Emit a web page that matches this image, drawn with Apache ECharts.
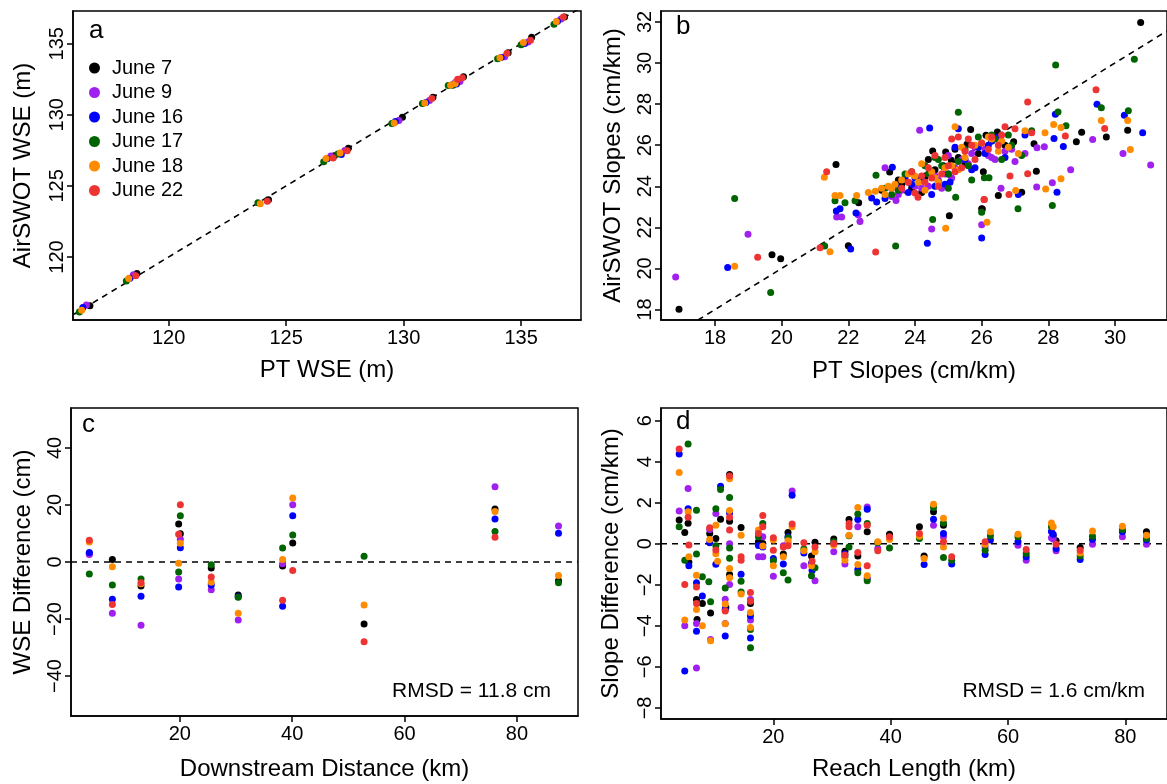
<!DOCTYPE html>
<html>
<head>
<meta charset="utf-8">
<script src="https://cdn.jsdelivr.net/npm/echarts@6/dist/echarts.min.js"></script>
<style>html,body{margin:0;padding:0;background:#fff;}#chart{width:1167px;height:784px;}</style>
</head>
<body>
<div id="chart"></div>
<script>
// ---------- names / colours ----------
const dates = ['June 7', 'June 9', 'June 16', 'June 17', 'June 18', 'June 22'];
const colors = ['#000000', '#A020F0', '#0000FF', '#006400', '#FF8C00', '#EE3333'];

// ---------- panel a : PT WSE (m) vs AirSWOT WSE (m) ----------
const aJune7  = [[136.85,136.88],[135.45,135.46],[134.45,134.37],[132.55,132.68],[132.35,132.45],[131.25,131.23],[129.95,129.83],[127.65,127.64],[127.05,127.12],[124.25,124.03],[118.65,118.84],[116.65,116.58]];
const aJune9  = [[136.7,136.73],[135.3,135.12],[134.3,134.08],[132.4,132.34],[132.2,132.28],[131.1,131.0],[129.8,129.6],[127.5,127.49],[126.9,127.1],[118.5,118.76],[116.5,116.63]];
const aJune16 = [[136.55,136.58],[135.15,135.02],[134.15,134.03],[132.25,132.16],[132.05,132.1],[130.95,130.87],[129.65,129.53],[127.35,127.2],[126.75,126.91],[118.35,118.5],[116.35,116.45]];
const aJune17 = [[136.4,136.36],[135.0,134.92],[134.0,133.94],[132.1,132.07],[131.9,132.06],[130.8,130.79],[129.5,129.38],[127.2,127.25],[126.6,126.7],[123.8,123.82],[118.2,118.31],[116.2,116.13]];
const aJune18 = [[136.5,136.57],[135.1,135.08],[134.1,134.02],[132.2,132.2],[132.0,132.07],[130.9,130.83],[129.6,129.42],[127.3,127.31],[126.7,126.92],[123.9,123.75],[118.3,118.48],[116.3,116.25]];
const aJune22 = [[136.8,136.88],[135.4,135.25],[134.4,134.33],[132.5,132.6],[132.3,132.5],[131.2,131.15],[127.6,127.47],[127.0,126.97],[124.2,123.92],[118.6,118.69]];

// ---------- panel b : PT slopes vs AirSWOT slopes (cm/km) ----------
const bJune7  = [[16.92,18.01],[19.71,20.67],[19.97,20.47],[21.63,25.06],[22.0,21.11],[22.31,23.2],[23.24,24.69],[23.6,24.1],[23.9,23.9],[24.1,24.3],[24.3,24.5],[24.53,25.72],[24.92,25.67],[24.85,25.0],[25.03,22.57],[25.09,25.26],[25.3,25.4],[25.56,26.04],[25.67,26.76],[26.0,22.9],[26.05,24.7],[26.13,26.48],[26.47,26.64],[26.5,23.55],[26.96,26.16],[27.2,23.71],[27.57,26.07],[27.64,24.73],[28.84,26.16],[29.0,26.63],[29.74,26.4],[30.38,26.73],[30.77,31.97],[26.02,22.89],[24.2,23.7],[25.9,25.6],[23.0,23.8],[24.6,24.8],[25.2,25.8],[25.5,25.1],[26.3,26.2],[24.4,25.3],[23.5,24.3],[26.7,26.0]];
const bJune9  = [[16.82,19.58],[18.99,21.66],[21.65,22.5],[21.8,22.5],[22.35,22.28],[22.3,22.6],[23.1,24.9],[23.43,23.31],[23.6,23.8],[23.8,24.2],[24.14,26.73],[24.4,24.0],[24.5,21.92],[24.6,24.5],[24.8,23.9],[25.0,25.5],[25.2,24.9],[25.4,25.3],[25.6,25.1],[25.8,25.9],[26.0,22.13],[26.2,25.5],[26.4,25.3],[26.58,23.9],[26.7,25.7],[27.0,25.2],[27.3,25.6],[27.66,25.87],[27.88,25.92],[27.65,23.96],[28.12,24.17],[28.67,24.8],[29.33,26.28],[30.24,25.6],[31.07,25.04],[23.3,23.5],[24.9,24.6],[26.1,25.8],[23.5,23.6],[24.2,23.9],[24.7,24.3],[25.1,24.4],[25.7,25.6],[26.3,25.4],[24.0,24.0],[26.9,25.8]];
const bJune16 = [[18.38,20.05],[21.64,22.8],[21.75,22.9],[22.07,20.94],[22.23,22.7],[22.7,23.43],[22.85,23.23],[23.1,23.4],[23.32,24.93],[23.5,23.9],[23.8,23.7],[24.0,24.4],[24.37,21.22],[24.44,26.84],[24.5,23.6],[24.7,24.2],[24.9,24.1],[25.05,24.2],[25.2,25.9],[25.3,26.8],[25.7,24.8],[25.9,25.9],[26.0,21.48],[26.1,25.6],[26.3,26.2],[26.5,26.4],[26.7,25.4],[27.1,23.6],[27.3,26.5],[28.17,26.33],[28.21,27.51],[28.26,23.71],[28.45,25.94],[29.46,27.99],[30.28,27.46],[30.83,26.6],[23.9,24.1],[23.3,23.9],[24.2,24.3],[24.6,24.0],[25.0,24.6],[25.5,25.3],[25.8,24.9],[26.2,26.0],[23.7,24.4]];
const bJune17 = [[18.59,23.4],[19.67,18.83],[21.29,21.09],[21.6,23.3],[21.9,23.2],[22.2,23.3],[22.83,24.54],[23.42,21.09],[23.3,23.6],[23.5,23.8],[23.7,24.6],[24.1,24.2],[24.3,25.0],[24.53,22.38],[24.6,25.4],[24.8,25.0],[25.0,24.6],[25.22,23.47],[25.3,27.6],[25.5,25.8],[25.7,24.3],[25.9,26.4],[26.0,22.74],[26.08,24.41],[26.22,24.41],[26.4,26.3],[26.6,25.3],[26.8,26.5],[27.09,22.91],[27.2,25.5],[27.5,26.7],[28.12,23.06],[28.22,29.9],[28.29,27.62],[28.53,26.94],[29.59,27.82],[30.4,27.67],[30.58,30.18],[25.0,23.9],[23.1,23.9],[23.9,24.7],[24.4,24.6],[24.7,25.3],[25.3,25.2],[25.6,25.0],[26.3,26.5],[26.9,26.0]];
const bJune18 = [[18.59,20.11],[21.28,24.44],[21.45,20.81],[21.6,23.55],[21.75,23.55],[22.25,23.55],[22.81,23.76],[23.1,23.6],[23.2,24.0],[23.4,24.1],[23.6,24.3],[23.8,24.6],[24.0,24.5],[24.2,25.1],[24.3,23.8],[24.5,24.7],[24.7,24.2],[24.92,21.96],[24.9,24.9],[25.2,26.9],[25.3,24.8],[25.5,25.4],[25.8,26.0],[26.0,26.1],[26.16,22.25],[26.3,26.3],[26.5,25.7],[26.8,25.9],[27.02,23.79],[27.1,25.6],[27.3,26.7],[27.92,23.87],[27.9,26.6],[28.16,27.0],[28.38,26.86],[28.38,24.37],[29.59,27.2],[30.38,27.2],[30.46,25.79],[23.0,23.9],[22.6,23.7],[23.3,23.9],[24.1,24.2],[24.6,24.4],[25.1,25.0],[25.4,25.9],[26.2,26.4],[26.6,26.2]];
const bJune22 = [[19.28,20.54],[21.15,21.01],[21.35,24.7],[22.82,20.8],[23.6,23.9],[23.8,24.2],[24.0,23.67],[24.09,23.47],[24.2,24.5],[24.4,24.9],[24.6,25.5],[24.8,24.6],[25.0,25.0],[25.1,26.3],[25.3,26.4],[25.5,25.7],[25.6,26.3],[25.8,25.3],[26.0,26.1],[26.08,23.36],[26.3,26.4],[26.5,26.0],[26.7,26.9],[26.82,23.6],[26.85,24.5],[27.0,26.8],[27.38,24.61],[27.38,28.1],[27.5,26.6],[28.51,26.45],[29.43,28.7],[29.69,26.81],[26.07,23.35],[25.2,24.7],[24.3,24.2],[23.9,24.7],[24.5,24.4],[24.9,25.4],[25.4,24.9],[25.7,26.0],[26.2,25.8],[26.6,26.5],[24.7,24.0]];

// ---------- panel c : downstream distance (km) vs WSE difference (cm) ----------
const cJune7  = [[3.9,3.0],[8.0,0.9],[13.1,-8.4],[19.8,13.3],[20.1,9.9],[25.6,-2.1],[30.4,-11.6],[38.3,-1.4],[40.1,6.7],[52.8,-21.7],[76.1,18.6],[87.4,-6.6]];
const cJune9  = [[3.9,2.6],[8.0,-18.0],[13.1,-22.2],[19.8,-6.0],[20.1,8.0],[25.6,-9.7],[30.4,-20.3],[38.3,-0.6],[40.1,20.1],[76.1,26.4],[87.4,12.6]];
const cJune16 = [[3.9,3.3],[8.0,-13.1],[13.1,-12.0],[19.8,-8.8],[20.1,5.0],[25.6,-8.1],[30.4,-12.2],[38.3,-15.5],[40.1,16.2],[76.1,15.1],[87.4,10.1]];
const cJune17 = [[3.9,-4.2],[8.0,-8.1],[13.1,-6.0],[19.8,-3.5],[20.1,16.2],[25.6,-1.0],[30.4,-12.4],[38.3,4.9],[40.1,9.5],[52.8,2.0],[76.1,10.7],[87.4,-7.3]];
const cJune18 = [[3.9,7.0],[8.0,-1.7],[13.1,-7.6],[19.8,-0.4],[20.1,6.6],[25.6,-7.1],[30.4,-18.0],[38.3,0.9],[40.1,22.4],[52.8,-15.1],[76.1,17.7],[87.4,-4.7]];
const cJune22 = [[3.9,7.6],[8.0,-14.9],[13.1,-7.3],[19.8,9.7],[20.1,20.1],[25.6,-5.3],[38.3,-13.4],[40.1,-3.0],[52.8,-28.0],[76.1,8.7]];

// ---------- panel d : reach length (km) vs slope difference (cm/km) ----------
const dJune7  = [[3.95,1.16],[4.9,0.55],[5.47,1.0],[5.6,-0.9],[6.9,-2.71],[7.0,-3.69],[7.9,-2.91],[9.15,0.5],[9.3,-3.37],[10.2,0.26],[11.0,1.2],[11.9,-3.1],[12.54,3.38],[12.54,1.1],[12.54,-1.5],[14.5,0.8],[16.1,-2.91],[17.46,0.1],[18.2,0.02],[21.7,-0.5],[22.5,0.55],[26.5,-0.59],[27.1,0.08],[30.3,0.24],[32.2,-0.36],[32.9,1.19],[34.4,-0.59],[36.0,0.59],[39.8,0.46],[44.9,0.83],[45.7,-0.59],[47.3,1.56],[49.0,0.91],[67.7,0.39],[68.2,0.15],[72.3,-0.18],[83.6,0.59]];
const dJune9  = [[3.95,1.6],[4.9,-4.0],[5.47,2.7],[6.9,-3.88],[6.9,-6.05],[9.15,0.7],[9.3,-4.66],[10.2,1.48],[11.8,-2.7],[11.8,-3.88],[12.54,0.0],[12.54,-1.98],[14.5,-3.1],[16.1,-2.71],[16.1,-3.72],[17.46,-0.63],[18.2,-0.63],[18.2,0.34],[20.0,-1.58],[21.7,-0.1],[22.5,0.05],[23.2,2.57],[25.2,-1.07],[27.1,-1.8],[30.3,-0.39],[32.2,-0.99],[34.4,0.83],[36.0,1.8],[37.8,-0.23],[47.3,0.91],[49.0,0.34],[56.1,-0.15],[61.7,-0.07],[63.1,-0.8],[67.4,0.3],[67.7,0.23],[68.2,-0.34],[74.4,-0.02],[79.5,0.34],[83.6,-0.02]];
const dJune16 = [[3.95,4.38],[4.9,-6.2],[5.47,1.71],[5.6,-1.07],[6.9,-1.9],[6.9,-4.26],[7.9,-2.55],[9.15,0.05],[10.2,-1.0],[11.0,2.81],[11.8,-3.2],[11.8,-4.5],[12.54,1.5],[14.5,-1.49],[16.1,-3.51],[16.1,-4.59],[17.46,-0.08],[18.2,-0.15],[20.0,-0.72],[21.7,-0.99],[22.5,0.34],[23.2,2.37],[25.2,-0.45],[26.5,-0.96],[26.6,-1.3],[30.3,0.0],[32.2,-0.5],[34.4,1.19],[34.4,-1.25],[36.0,1.69],[36.0,-1.69],[45.7,-1.01],[47.3,1.2],[49.0,0.5],[50.4,-0.99],[56.1,-0.52],[57.0,0.18],[61.7,0.1],[63.1,-0.63],[67.4,0.6],[67.7,0.47],[68.2,-0.23],[72.3,-0.76],[74.4,0.21],[79.5,0.59],[83.6,0.18]];
const dJune17 = [[3.95,0.83],[4.9,-0.8],[5.47,4.86],[6.9,1.64],[6.9,-0.5],[7.9,-1.61],[9.0,-1.85],[9.3,-2.83],[10.2,1.71],[10.2,-0.1],[11.0,2.65],[11.8,-2.15],[12.54,2.26],[12.54,-0.2],[12.54,-0.7],[14.5,-1.82],[14.5,-2.35],[16.1,-4.18],[16.1,-5.07],[17.46,0.34],[18.2,0.99],[20.0,-0.83],[21.7,-1.41],[22.5,-1.77],[22.5,0.3],[25.2,-0.25],[26.5,-1.56],[27.1,-1.17],[30.3,0.1],[32.2,-0.63],[32.9,0.39],[32.9,-0.15],[34.4,1.45],[34.4,-1.41],[36.0,0.99],[36.0,-1.8],[37.8,0.05],[39.8,-0.2],[44.9,0.26],[47.3,1.77],[49.0,1.02],[49.0,-0.67],[50.4,-0.8],[56.1,-0.31],[57.0,0.39],[61.7,0.34],[63.1,-0.47],[67.4,0.83],[72.3,-0.6],[74.4,0.37],[79.5,0.7],[83.6,0.26]];
const dJune18 = [[3.95,3.47],[4.9,-3.72],[5.47,1.56],[5.6,-0.63],[6.9,-1.53],[6.9,-3.2],[7.9,-4.0],[9.15,0.21],[9.3,-4.73],[10.2,0.91],[10.2,-0.49],[10.5,-0.85],[11.8,-2.94],[11.8,-3.9],[12.54,3.17],[12.54,1.62],[12.54,-1.66],[12.54,-1.2],[14.5,0.42],[14.5,-2.45],[16.1,-3.35],[16.1,-4.08],[17.46,0.67],[18.2,-0.11],[20.0,0.18],[20.0,-1.07],[21.7,-0.63],[22.5,0.15],[23.2,0.83],[25.2,-0.34],[26.5,-1.07],[27.1,-0.39],[30.3,-0.07],[32.2,-0.8],[32.9,0.42],[34.4,1.77],[34.4,-1.01],[36.0,-1.56],[37.8,0.1],[39.8,0.21],[44.9,0.37],[45.7,-0.72],[47.3,1.93],[49.0,1.24],[49.0,-0.15],[56.1,-0.02],[57.0,0.59],[61.7,0.47],[67.4,1.02],[67.7,0.83],[72.3,-0.45],[74.4,0.63],[79.5,0.86],[83.6,0.42]];
const dJune22 = [[3.95,4.62],[4.9,-1.98],[5.47,1.29],[5.6,-0.06],[6.9,-2.1],[6.9,-2.91],[9.15,0.78],[10.2,-0.3],[11.8,-3.27],[12.54,3.3],[12.54,1.29],[12.54,0.67],[14.5,-0.63],[14.5,-0.8],[16.1,-2.37],[16.1,-2.8],[17.46,0.5],[18.2,1.38],[18.2,0.83],[20.0,0.29],[20.0,-0.31],[21.7,-0.15],[22.5,-0.1],[23.2,0.96],[25.2,0.05],[26.6,-0.85],[27.1,-0.15],[30.3,0.02],[32.2,-0.55],[32.9,0.99],[32.9,0.83],[34.4,-0.42],[36.0,0.91],[36.0,-1.07],[37.8,-0.34],[39.8,0.34],[44.9,0.5],[49.0,0.1],[50.4,-0.63],[56.1,0.1],[63.1,-0.28],[68.2,-0.02],[72.3,-0.31]];

// ---------- axis ranges and ticks ----------
const aXRange = [115.93, 137.55], aYRange = [115.57, 137.3];
const bXRange = [16.38, 31.56],   bYRange = [17.49, 32.53];
const cXRange = [0.64, 90.87],    cYRange = [-54, 54];
const dXRange = [0.85, 87.1],     dYRange = [-8.54, 6.62];
const aXTicks = [120, 125, 130, 135], aYTicks = [120, 125, 130, 135];
const bXTicks = [18, 20, 22, 24, 26, 28, 30], bYTicks = [18, 20, 22, 24, 26, 28, 30, 32];
const cXTicks = [20, 40, 60, 80], cYTicks = [-40, -20, 0, 20, 40];
const dXTicks = [20, 40, 60, 80], dYTicks = [-8, -6, -4, -2, 0, 2, 4, 6];

const panelA = [aJune7, aJune9, aJune16, aJune17, aJune18, aJune22];
const panelB = [bJune7, bJune9, bJune16, bJune17, bJune18, bJune22];
const panelC = [cJune7, cJune9, cJune16, cJune17, cJune18, cJune22];
const panelD = [dJune7, dJune9, dJune16, dJune17, dJune18, dJune22];

const FONT = '"Liberation Sans", Arial, Helvetica, sans-serif';
const minus = v => String(v).replace('-', '\u2212');

function xAx(gi, r, ticks, name, gap) {
  return {
    type: 'value', gridIndex: gi, min: r[0], max: r[1],
    name: name, nameLocation: 'middle', nameGap: gap,
    nameTextStyle: { fontFamily: FONT, fontSize: 24, color: '#000' },
    axisLine: { show: true, onZero: false, lineStyle: { color: '#000', width: 1.5 } },
    axisTick: { show: true, customValues: ticks, length: 6, lineStyle: { color: '#000', width: 1.5 } },
    axisLabel: { customValues: ticks, margin: 8, fontFamily: FONT, fontSize: 20, color: '#000', formatter: minus },
    splitLine: { show: false }
  };
}
function yAx(gi, r, ticks, name, gap) {
  return {
    type: 'value', gridIndex: gi, min: r[0], max: r[1],
    name: name, nameLocation: 'middle', nameGap: gap, nameRotate: 90,
    nameTextStyle: { fontFamily: FONT, fontSize: 24, color: '#000' },
    axisLine: { show: true, onZero: false, lineStyle: { color: '#000', width: 1.5 } },
    axisTick: { show: true, customValues: ticks, length: 6, lineStyle: { color: '#000', width: 1.5 } },
    axisLabel: { customValues: ticks, rotate: 90, margin: 6, fontFamily: FONT, fontSize: 20, color: '#000', formatter: minus },
    splitLine: { show: false }
  };
}

const series = [];
const dashed = { color: '#000', width: 1.6, type: [6, 5] };
// reference lines (1:1 in a and b, zero in c and d)
series.push({ type: 'line', xAxisIndex: 0, yAxisIndex: 0, data: [[aYRange[0], aYRange[0]], [aXRange[1], aXRange[1]]], symbol: 'none', lineStyle: dashed, silent: true, z: 1 });
series.push({ type: 'line', xAxisIndex: 1, yAxisIndex: 1, data: [[bYRange[0], bYRange[0]], [bXRange[1], bXRange[1]]], symbol: 'none', lineStyle: dashed, silent: true, z: 1 });
series.push({ type: 'line', xAxisIndex: 2, yAxisIndex: 2, data: [[cXRange[0], 0], [cXRange[1], 0]], symbol: 'none', lineStyle: dashed, silent: true, z: 1 });
series.push({ type: 'line', xAxisIndex: 3, yAxisIndex: 3, data: [[dXRange[0], 0], [dXRange[1], 0]], symbol: 'none', lineStyle: dashed, silent: true, z: 1 });

[panelA, panelB, panelC, panelD].forEach((panel, pi) => {
  panel.forEach((d, i) => {
    series.push({
      name: dates[i], type: 'scatter', xAxisIndex: pi, yAxisIndex: pi,
      data: d, symbol: 'circle', symbolSize: 7,
      itemStyle: { color: colors[i], opacity: 1 }, z: 2
    });
  });
});

const option = {
  animation: false,
  backgroundColor: '#fff',
  grid: [
    { left: 73, top: 11, width: 508, height: 309, show: true, borderColor: '#000', borderWidth: 1.5 },
    { left: 661, top: 11, width: 515, height: 309, show: true, borderColor: '#000', borderWidth: 1.5 },
    { left: 71, top: 408, width: 507, height: 308, show: true, borderColor: '#000', borderWidth: 1.5 },
    { left: 661, top: 408, width: 509, height: 311, show: true, borderColor: '#000', borderWidth: 1.5 }
  ],
  xAxis: [
    xAx(0, aXRange, aXTicks, 'PT WSE (m)', 38),
    xAx(1, bXRange, bXTicks, 'PT Slopes (cm/km)', 39),
    xAx(2, cXRange, cXTicks, 'Downstream Distance (km)', 41),
    xAx(3, dXRange, dXTicks, 'Reach Length (km)', 38)
  ],
  yAxis: [
    yAx(0, aYRange, aYTicks, 'AirSWOT WSE (m)', 38),
    yAx(1, bYRange, bYTicks, 'AirSWOT Slopes (cm/km)', 36),
    yAx(2, cYRange, cYTicks, 'WSE Difference (cm)', 36),
    yAx(3, dYRange, dYTicks, 'Slope Difference (cm/km)', 38)
  ],
  legend: {
    data: dates, orient: 'vertical', left: 84, top: 53,
    icon: 'circle', itemWidth: 25, itemHeight: 11, itemGap: 4.5,
    textStyle: { fontFamily: FONT, fontSize: 20, color: '#000', lineHeight: 20 },
    selectedMode: false
  },
  graphic: [
    { type: 'text', left: 89, top: 18, style: { text: 'a', font: '26px ' + FONT, fill: '#000' } },
    { type: 'text', left: 676, top: 14, style: { text: 'b', font: '26px ' + FONT, fill: '#000' } },
    { type: 'text', left: 82, top: 412, style: { text: 'c', font: '26px ' + FONT, fill: '#000' } },
    { type: 'text', left: 676, top: 409, style: { text: 'd', font: '26px ' + FONT, fill: '#000' } },
    { type: 'text', x: 551, y: 691, style: { text: 'RMSD = 11.8 cm', font: '21px ' + FONT, fill: '#000', align: 'right', verticalAlign: 'middle' } },
    { type: 'text', x: 1145, y: 691, style: { text: 'RMSD = 1.6 cm/km', font: '21px ' + FONT, fill: '#000', align: 'right', verticalAlign: 'middle' } }
  ],
  series: series
};

const chart = echarts.init(document.getElementById('chart'), null, { renderer: 'canvas' });
chart.setOption(option);
</script>
</body>
</html>
